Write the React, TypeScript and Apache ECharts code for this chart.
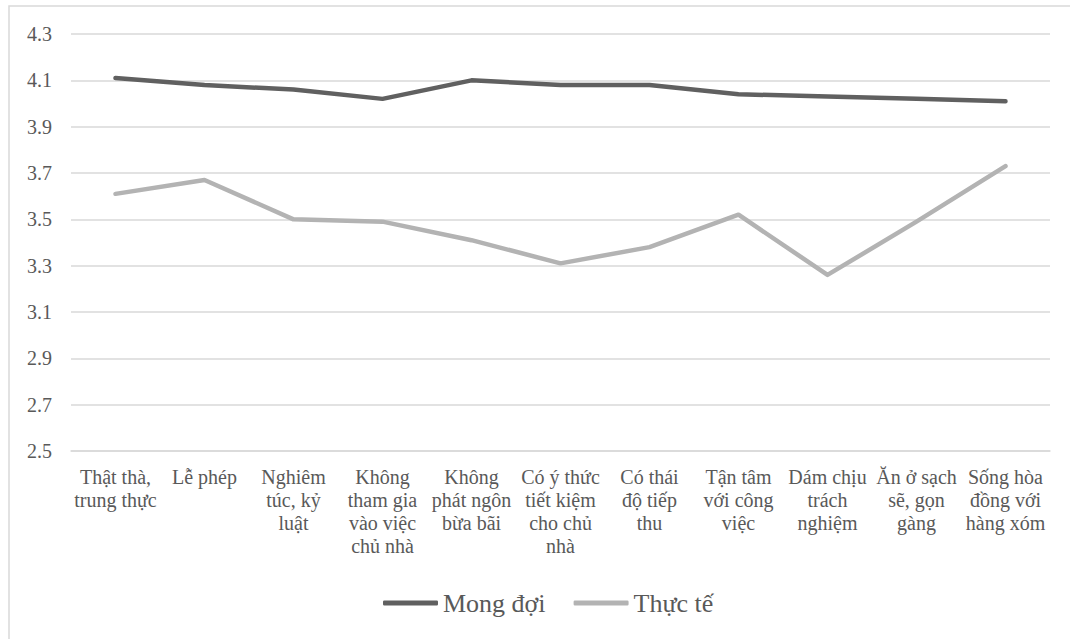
import React, { useEffect, useRef } from "react";
import * as echarts from "echarts";

const categories = [
  "Thật thà,\ntrung thực",
  "Lễ phép",
  "Nghiêm\ntúc, kỷ\nluật",
  "Không\ntham gia\nvào việc\nchủ nhà",
  "Không\nphát ngôn\nbừa bãi",
  "Có ý thức\ntiết kiệm\ncho chủ\nnhà",
  "Có thái\nđộ tiếp\nthu",
  "Tận tâm\nvới công\nviệc",
  "Dám chịu\ntrách\nnghiệm",
  "Ăn ở sạch\nsẽ, gọn\ngàng",
  "Sống hòa\nđồng với\nhàng xóm",
];

const mongDoi = [4.11, 4.08, 4.06, 4.02, 4.1, 4.08, 4.08, 4.04, 4.03, 4.02, 4.01];
const thucTe = [3.61, 3.67, 3.5, 3.49, 3.41, 3.31, 3.38, 3.52, 3.26, 3.49, 3.73];

const seriesNames = ["Mong đợi", "Thực tế"];

export default function App() {
  const ref = useRef<HTMLDivElement>(null);
  useEffect(() => {
    if (!ref.current) return;
    const chart = echarts.init(ref.current, undefined, { renderer: "svg" });
    const font = "Liberation Serif";
    chart.setOption({
      animation: false,
      backgroundColor: "#ffffff",
      textStyle: { fontFamily: font },
      graphic: [
        {
          type: "rect",
          shape: { x: 9, y: 6, width: 1070, height: 650 },
          style: { fill: "none", stroke: "#d9d9d9", lineWidth: 1.5 },
          silent: true,
        },
      ],
      grid: { left: 71, right: 20, top: 34, bottom: 188, containLabel: false },
      legend: {
        data: seriesNames,
        bottom: 18,
        left: 378,
        icon: "roundRect",
        itemWidth: 55,
        itemHeight: 5,
        itemGap: 28,
        textStyle: { fontFamily: font, fontSize: 26, color: "#595959" },
      },
      xAxis: {
        type: "category",
        data: categories,
        boundaryGap: true,
        axisLine: { show: true, lineStyle: { color: "#d9d9d9", width: 1.5 } },
        axisTick: { show: false },
        axisLabel: {
          interval: 0,
          margin: 14,
          fontFamily: font,
          fontSize: 20,
          lineHeight: 23,
          color: "#595959",
          align: "center",
        },
      },
      yAxis: {
        type: "value",
        min: 2.5,
        max: 4.3,
        interval: 0.2,
        axisLine: { show: false },
        axisTick: { show: false },
        splitLine: { lineStyle: { color: "#d9d9d9", width: 1.5 } },
        axisLabel: {
          margin: 19,
          fontFamily: font,
          fontSize: 20,
          color: "#595959",
          formatter: (v: number) => v.toFixed(1),
        },
      },
      series: [
        {
          name: seriesNames[0],
          type: "line",
          data: mongDoi,
          symbol: "none",
          lineStyle: { color: "#606060", width: 4.5, cap: "round", join: "round" },
          itemStyle: { color: "#606060" },
        },
        {
          name: seriesNames[1],
          type: "line",
          data: thucTe,
          symbol: "none",
          lineStyle: { color: "#b3b3b3", width: 4.5, cap: "round", join: "round" },
          itemStyle: { color: "#b3b3b3" },
        },
      ],
    });
    return () => chart.dispose();
  }, []);
  return (
    <div
      ref={ref}
      style={{ position: "absolute", left: 0, top: 0, width: 1070, height: 639 }}
    />
  );
}
